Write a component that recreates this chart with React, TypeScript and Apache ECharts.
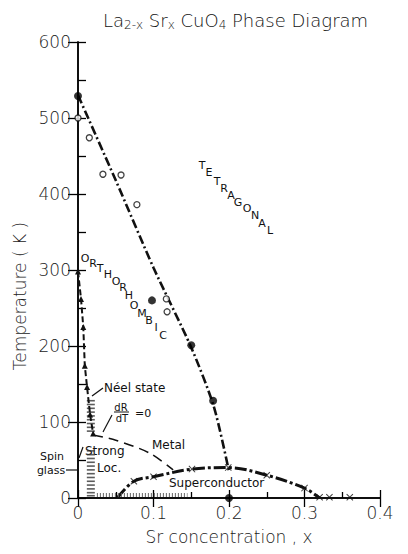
import React, { useEffect, useRef } from "react";
import * as echarts from "echarts";

// ---- data ----
const xTickValues = [0, 0.1, 0.2, 0.3, 0.4];
const tempTickValues = [0, 100, 200, 300, 400, 500, 600];

// tetragonal / orthorhombic transition line
const structX = [0, 0.05, 0.1, 0.15, 0.18, 0.2];
const structT = [530, 418, 303, 198, 120, 35];
// filled circles
const filledX = [0, 0.098, 0.15, 0.179, 0.2];
const filledT = [529, 260, 201, 128, 0];
// open circles
const openX = [0, 0.015, 0.033, 0.057, 0.078, 0.117, 0.118];
const openT = [500, 474, 426, 425, 386, 262, 245];
// Néel line (triangles)
const neelX = [0, 0.004, 0.007, 0.009, 0.012, 0.016, 0.02];
const neelT = [298, 262, 225, 174, 146, 110, 85];
// metal boundary
const metalX = [0.02, 0.05, 0.095, 0.126];
const metalT = [83, 76, 59, 37];
// superconducting dome
const scX = [0.052, 0.074, 0.1, 0.151, 0.199, 0.25, 0.3, 0.32];
const scT = [0, 22, 28, 38, 40, 30, 13, 0];
// crosses (superconducting Tc measurements)
const crossX = [0.074, 0.1, 0.151, 0.199, 0.25, 0.3, 0.32, 0.333, 0.36];
const crossT = [22, 28, 38, 40, 30, 13, 1, 1, 1];
// hatch marks of the low-x, low-T region
const hatchT = [128, 123, 118, 113, 108, 103, 98, 93, 88, 62, 57, 52, 47, 42, 37, 32, 27, 22, 17, 12, 7, 3];
const hatchX = 0.017;
const lowBandX = [0.025, 0.145];
const lowBandT = [4, 4];

const FONT = "DejaVu Sans";
const CROSS = "path://M0,1L1,0L5,4L9,0L10,1L6,5L10,9L9,10L5,6L1,10L0,9L4,5Z";

const zip = (xs: number[], ys: number[]) => xs.map((x, i) => [x, ys[i]]);

const tetragonal = [
  ["T", 202, 165], ["E", 209, 172], ["T", 217, 181], ["R", 224, 188], ["A", 231, 195],
  ["G", 238, 202], ["O", 247, 208], ["N", 255, 215], ["A", 262, 223], ["L", 270, 230],
];
const orthorhombic = [
  ["O", 85, 258], ["R", 93, 263], ["T", 100, 268], ["H", 108, 274], ["O", 116, 281], ["R", 123, 287],
  ["H", 129, 295], ["O", 134, 305], ["M", 142, 313], ["B", 149, 320], ["I", 156, 327], ["C", 163, 335],
];

export default function App() {
  const ref = useRef<HTMLDivElement>(null);
  useEffect(() => {
    if (!ref.current) return;
    const chart = echarts.init(ref.current, null, { renderer: "svg" });
    const axisLine = { show: true, lineStyle: { color: "#000", width: 1.5 } };
    const tickStyle = { color: "#000", width: 1.3 };
    const letter = (l: any[], size: number) => ({
      type: "text",
      x: l[1],
      y: l[2],
      style: { text: l[0], fontSize: size, fontFamily: FONT, fill: "#111", align: "center", verticalAlign: "middle" },
    });
    const txt = (text: string, x: number, y: number, size: number, align = "left") => ({
      type: "text",
      x,
      y,
      style: { text, fontSize: size, fontFamily: FONT, fill: "#111", align, verticalAlign: "middle" },
    });
    const seg = (x1: number, y1: number, x2: number, y2: number, w = 1.2) => ({
      type: "line",
      shape: { x1, y1, x2, y2 },
      style: { stroke: "#111", lineWidth: w },
    });
    chart.setOption({
      animation: false,
      backgroundColor: "#fff",
      title: {
        text: "{n|La}{s|2-x}{n| Sr}{s|x}{n| CuO}{s|4}{n| Phase Diagram}",
        left: 98,
        top: 5,
        textStyle: {
          rich: {
            n: { fontSize: 18, fontFamily: FONT, fontWeight: 200, color: "#111" },
            s: { fontSize: 12, fontFamily: FONT, fontWeight: 200, color: "#111", padding: [9, 0, 0, 0] },
          },
        },
      },
      grid: { left: 78, right: 28, top: 42, bottom: 56 },
      xAxis: [
        {
          type: "value",
          min: 0,
          max: 0.4,
          interval: 0.1,
          position: "bottom",
          axisLine,
          axisTick: { show: true, inside: true, length: 8, lineStyle: tickStyle },
          minorTick: { show: true, splitNumber: 2, length: 6, lineStyle: tickStyle },
          splitLine: { show: false },
          axisLabel: {
            fontSize: 17,
            fontFamily: FONT,
            fontWeight: 200,
            color: "#222",
            margin: 6,
            formatter: (v: number) => (xTickValues.includes(v) && v === 0 ? "0" : v.toFixed(1)),
          },
          name: "Sr concentration , x",
          nameLocation: "middle",
          nameGap: 30,
          nameTextStyle: { fontSize: 17, fontFamily: FONT, fontWeight: 200, color: "#222" },
        },
        {
          type: "value",
          min: 0,
          max: 0.4,
          interval: 0.1,
          position: "top",
          axisLine,
          axisTick: { show: true, inside: true, length: 9, lineStyle: tickStyle },
          axisLabel: { show: false },
          splitLine: { show: false },
        },
      ],
      yAxis: [
        {
          type: "value",
          min: 0,
          max: 600,
          interval: 100,
          axisLine,
          axisTick: { show: true, inside: true, length: 8, lineStyle: tickStyle },
          minorTick: { show: true, splitNumber: 2, length: 8, lineStyle: tickStyle },
          splitLine: { show: false },
          axisLabel: {
            fontSize: 17,
            fontFamily: FONT,
            fontWeight: 200,
            color: "#222",
            margin: 7,
            formatter: (v: number) => (tempTickValues.includes(v) ? String(v) : ""),
          },
        },
        {
          type: "value",
          min: 0,
          max: 600,
          interval: 100,
          position: "right",
          axisLine,
          axisTick: { show: true, inside: true, length: 10, lineStyle: tickStyle },
          axisLabel: { show: false },
          splitLine: { show: false },
        },
      ],
      series: [
        {
          type: "line",
          data: zip(structX, structT),
          smooth: 0.25,
          showSymbol: false,
          lineStyle: { color: "#111", width: 2.6, type: [9, 3, 2, 3] },
          z: 3,
        },
        {
          type: "line",
          data: zip(neelX, neelT),
          showSymbol: true,
          symbol: "triangle",
          symbolSize: 6,
          itemStyle: { color: "#111" },
          lineStyle: { color: "#111", width: 2, type: [6, 3] },
        },
        {
          type: "line",
          data: zip(metalX, metalT),
          smooth: 0.3,
          showSymbol: false,
          lineStyle: { color: "#111", width: 1.5, type: [10, 6] },
        },
        {
          type: "line",
          data: zip(scX, scT),
          smooth: 0.35,
          showSymbol: false,
          lineStyle: { color: "#111", width: 3, type: [12, 3, 3, 3] },
        },
        {
          type: "line",
          data: zip(lowBandX, lowBandT),
          showSymbol: false,
          lineStyle: { color: "#666", width: 4, type: [1, 2] },
        },
        {
          type: "scatter",
          data: hatchT.map((t) => [hatchX, t]),
          symbol: "rect",
          symbolSize: [8, 1.6],
          itemStyle: { color: "#333" },
        },
        {
          type: "scatter",
          data: zip(crossX, crossT),
          symbol: CROSS,
          symbolSize: 7,
          itemStyle: { color: "#111" },
          z: 4,
        },
        {
          type: "scatter",
          data: zip(filledX, filledT),
          symbol: "circle",
          symbolSize: 8,
          itemStyle: { color: "#000" },
          z: 5,
        },
        {
          type: "scatter",
          data: zip(openX, openT),
          symbol: "circle",
          symbolSize: 6,
          itemStyle: { color: "#fff", borderColor: "#111", borderWidth: 1.3 },
          z: 5,
        },
      ],
      graphic: [
        {
          type: "text",
          x: 20,
          y: 296,
          rotation: Math.PI / 2,
          style: {
            text: "Temperature ( K )",
            fontSize: 17,
            fontFamily: FONT,
            fontWeight: 200,
            fill: "#222",
            align: "center",
            verticalAlign: "middle",
          },
        },
        ...tetragonal.map((l) => letter(l, 11)),
        ...orthorhombic.map((l) => letter(l, 11)),
        txt("Néel state", 104, 388, 12),
        seg(103, 388, 92, 396),
        txt("dR", 121, 407, 10, "center"),
        seg(114, 412, 129, 412, 1),
        txt("dT", 122, 418, 10, "center"),
        txt("=0", 135, 413, 11),
        seg(112, 415, 103, 432),
        txt("Metal", 152, 445, 12),
        txt("Strong", 85, 451, 12),
        seg(83, 447, 79, 458),
        txt("Loc.", 97, 468, 12),
        txt("Spin", 52, 456, 11, "center"),
        txt("glass", 51, 470, 11, "center"),
        seg(66, 470, 77, 470),
        txt("Superconductor", 169, 483, 12),
      ],
    });
    return () => chart.dispose();
  }, []);
  return <div ref={ref} style={{ width: 408, height: 554, margin: -8 }} />;
}
